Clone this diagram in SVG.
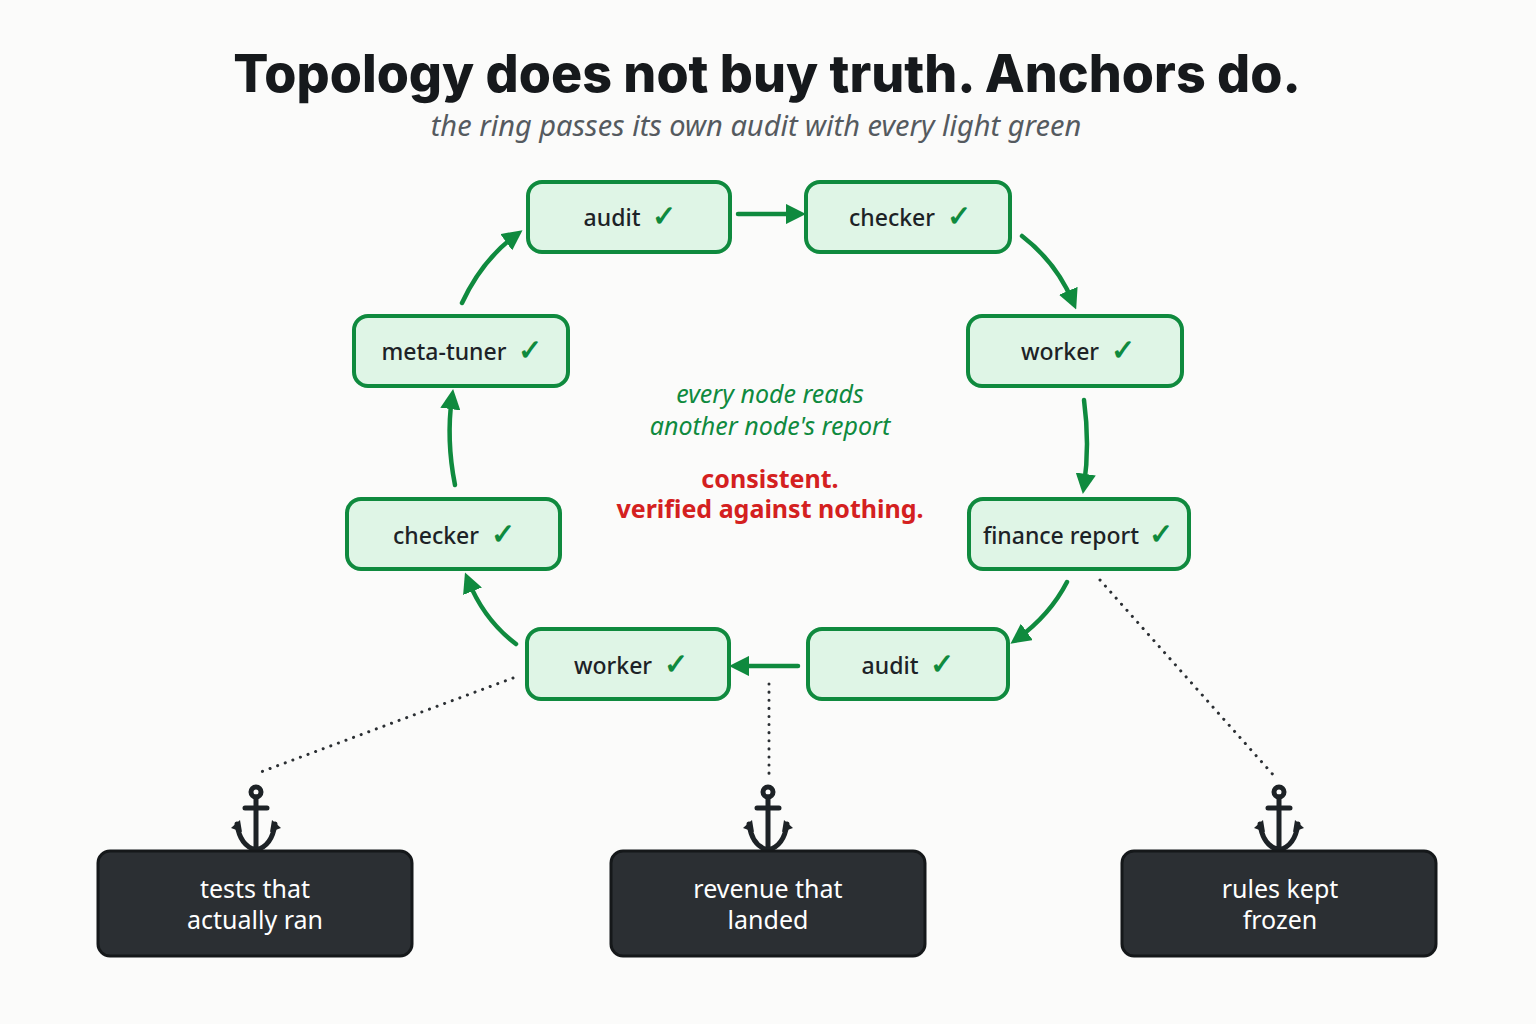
<svg xmlns="http://www.w3.org/2000/svg" width="1536" height="1024" viewBox="0 0 1536 1024">
<defs>
<style>
.n rect{fill:#dff5e6;stroke:#0f8a3e;stroke-width:4}
.n text{font-family:"Noto Sans","Open Sans",sans-serif;font-size:23px;font-weight:500;fill:#1d2226;text-anchor:middle}
.ck{fill:#0f8a3e;font-size:29px;font-weight:bold}
.a rect{fill:#2b2f33;stroke:#15181a;stroke-width:3}
.a text{font-family:"Noto Sans","Open Sans",sans-serif;font-size:25px;fill:#fff;text-anchor:middle}
.c path{fill:none;stroke:#0f8a3e;stroke-width:4.5;stroke-linecap:round}
.d path{fill:none;stroke:#2b2f33;stroke-width:3;stroke-dasharray:0.1 8;stroke-linecap:round}
.anc{fill:none;stroke:#1d2226;stroke-width:5;stroke-linecap:round}
</style>
<marker id="ah" viewBox="0 0 10 10" refX="6" refY="5" markerWidth="4.5" markerHeight="4.5" orient="auto" markerUnits="strokeWidth"><path d="M0,0 L10,5 L0,10 z" fill="#0f8a3e"/></marker>
<g id="anchor"><circle cx="0" cy="-28" r="5" class="anc" stroke-width="3.5"/><path class="anc" d="M0,-23 V30 M-11,-12 H11 M-19,4 Q-16,26 0,30 Q16,26 19,4"/><path d="M-25,8 L-16,0 L-14,12 z M25,8 L16,0 L14,12 z" fill="#1d2226"/></g>
</defs>
<rect width="1536" height="1024" fill="#fbfbfa"/>
<text x="767" y="92" text-anchor="middle" font-family="Inter,'Noto Sans',sans-serif" font-weight="800" font-size="52" fill="#16191c">Topology does not buy truth. Anchors do.</text>
<text x="756" y="136" text-anchor="middle" font-family="'Noto Sans','Open Sans',sans-serif" font-style="italic" font-size="29" fill="#555a5f">the ring passes its own audit with every light green</text>
<g font-family="'Noto Sans','Open Sans',sans-serif" text-anchor="middle">
<text x="770" y="403" font-style="italic" font-size="25" fill="#0f8a3e">every node reads</text>
<text x="770" y="435" font-style="italic" font-size="25" fill="#0f8a3e">another node's report</text>
<text x="770" y="488" font-weight="bold" font-size="25" fill="#d42020">consistent.</text>
<text x="770" y="518" font-weight="bold" font-size="25" fill="#d42020">verified against nothing.</text>
</g>
<g id="connectors">
<g class="c">
<path d="M738,214 L798,214" marker-end="url(#ah)"/>
<path d="M1022,236 Q1056,262 1073,302" marker-end="url(#ah)"/>
<path d="M1084,400 Q1090,445 1084,486" marker-end="url(#ah)"/>
<path d="M1067,582 Q1050,615 1017,639" marker-end="url(#ah)"/>
<path d="M798,666 L737,666" marker-end="url(#ah)"/>
<path d="M516,644 Q484,620 468,580" marker-end="url(#ah)"/>
<path d="M455,485 Q446,440 452,397" marker-end="url(#ah)"/>
<path d="M462,303 Q482,260 516,235" marker-end="url(#ah)"/>
</g>
<g class="d">
<path d="M513,678 L258,773"/>
<path d="M769,684 L769,775"/>
<path d="M1100,580 L1276,778"/>
</g>
</g>
<g id="n1" class="n"><rect x="528" y="182" width="202" height="70" rx="14"/><text x="630" y="226">audit <tspan class="ck" dx="6">✓</tspan></text></g>
<g id="n2" class="n"><rect x="806" y="182" width="204" height="70" rx="14"/><text x="910" y="226">checker <tspan class="ck" dx="6">✓</tspan></text></g>
<g id="n3" class="n"><rect x="968" y="316" width="214" height="70" rx="14"/><text x="1078" y="360">worker <tspan class="ck" dx="6">✓</tspan></text></g>
<g id="n4" class="n"><rect x="969" y="499" width="220" height="70" rx="14"/><text x="1078" y="544">finance report <tspan class="ck" dx="4">✓</tspan></text></g>
<g id="n5" class="n"><rect x="808" y="629" width="200" height="70" rx="14"/><text x="908" y="674">audit <tspan class="ck" dx="6">✓</tspan></text></g>
<g id="n6" class="n"><rect x="527" y="629" width="202" height="70" rx="14"/><text x="631" y="674">worker <tspan class="ck" dx="6">✓</tspan></text></g>
<g id="n7" class="n"><rect x="347" y="499" width="213" height="70" rx="14"/><text x="454" y="544">checker <tspan class="ck" dx="6">✓</tspan></text></g>
<g id="n8" class="n"><rect x="354" y="316" width="214" height="70" rx="14"/><text x="462" y="360">meta-tuner <tspan class="ck" dx="6">✓</tspan></text></g>
<g id="a1" class="a"><use href="#anchor" x="256" y="820"/><rect x="98" y="851" width="314" height="105" rx="12"/><text x="255" y="898">tests that</text><text x="255" y="929">actually ran</text></g>
<g id="a2" class="a"><use href="#anchor" x="768" y="820"/><rect x="611" y="851" width="314" height="105" rx="12"/><text x="768" y="898">revenue that</text><text x="768" y="929">landed</text></g>
<g id="a3" class="a"><use href="#anchor" x="1279" y="820"/><rect x="1122" y="851" width="314" height="105" rx="12"/><text x="1280" y="898">rules kept</text><text x="1280" y="929">frozen</text></g>
</svg>
